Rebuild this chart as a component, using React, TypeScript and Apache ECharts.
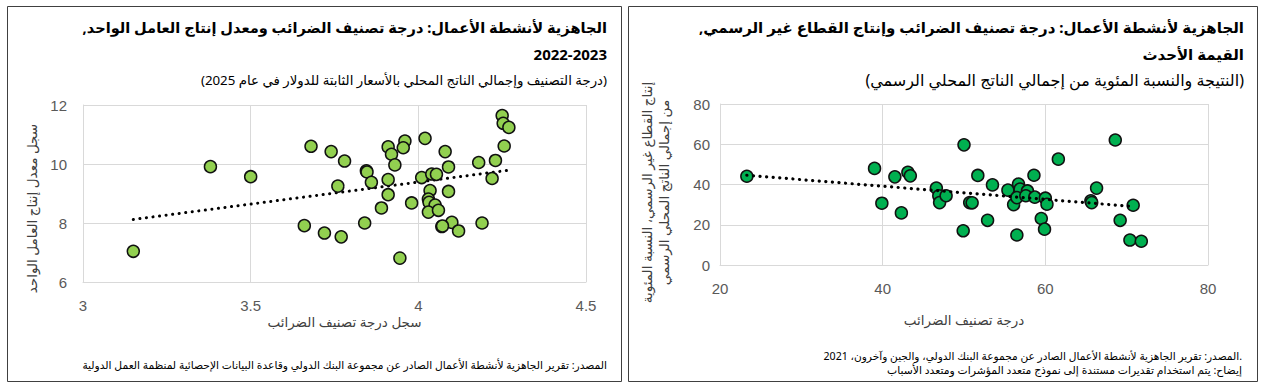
import React, { useEffect, useRef } from "react";
import * as echarts from "echarts";

// Left panel: log tax score vs log output per worker
const leftTaxLog = [3.15, 3.38, 3.5, 3.68, 3.66, 3.74, 3.72, 3.77, 3.76, 3.78, 3.845, 3.847, 3.84, 3.86, 3.89, 3.91, 3.92, 3.93, 3.91, 3.91, 3.945, 3.96, 3.955, 3.98, 4.02, 4.01, 4.04, 4.054, 4.035, 4.03, 4.032, 4.05, 4.03, 4.06, 4.08, 4.09, 4.09, 4.07, 4.1, 4.12, 4.072, 4.18, 4.19, 4.23, 4.22, 4.25, 4.253, 4.27, 4.256];
const leftProdLog = [7.04, 9.91, 9.57, 10.6, 7.91, 10.42, 7.66, 7.53, 9.25, 10.1, 9.77, 9.73, 8.0, 9.38, 8.51, 10.58, 10.33, 9.97, 9.47, 8.96, 6.81, 10.78, 10.55, 8.68, 10.87, 9.54, 9.66, 9.65, 9.1, 8.81, 8.7, 8.61, 8.37, 8.43, 10.42, 9.9, 9.07, 7.88, 8.02, 7.73, 7.9, 10.05, 8.0, 10.12, 9.51, 11.64, 11.38, 11.24, 10.61];
const leftTrendX = [3.15, 4.27];
const leftTrendY = [8.12, 9.79];

// Right panel: tax score vs informal output (% of formal GDP)
const rightTaxScore = [23.3, 39, 39.9, 41.5, 42.3, 43.1, 43.4, 46.6, 46.9, 47, 47.8, 50, 49.9, 50.7, 51, 51.7, 52.9, 53.5, 55.4, 56.1, 56.5, 56.7, 56.9, 56.5, 57.8, 57.6, 58.6, 58.7, 59.5, 59.9, 60, 60.2, 61.6, 65.6, 65.7, 66.3, 68.6, 69.2, 70.4, 70.8, 71.8];
const rightInformal = [44.1, 48, 30.7, 43.8, 25.9, 46.1, 44.3, 38.2, 34.4, 31, 34.4, 59.7, 17, 31, 30.9, 44.5, 22.2, 39.8, 37.2, 30, 14.9, 40.2, 37.7, 33.5, 36.8, 34.4, 44.6, 33.7, 23.1, 17.8, 33.2, 30.2, 52.6, 31.9, 31, 38.2, 62.1, 22.2, 12.4, 29.7, 11.8];
const rightTrendX = [23.3, 71.0];
const rightTrendY = [44.6, 29.0];

// Axis settings
const leftXTicks = { min: 3, max: 4.5, interval: 0.5 };
const leftYTicks = { min: 6, max: 12, interval: 2 };
const rightXTicks = { min: 20, max: 80, interval: 20 };
const rightYTicks = { min: 0, max: 80, interval: 20 };

// Texts
const leftTitle1 = "الجاهزية لأنشطة الأعمال: درجة تصنيف الضرائب ومعدل إنتاج العامل الواحد,";
const leftTitle2 = "2022-2023";
const leftSubtitle = "(درجة التصنيف وإجمالي الناتج المحلي بالأسعار الثابتة للدولار في عام 2025)";
const leftXName = "سجل درجة تصنيف الضرائب";
const leftYName = "سجل معدل إنتاج العامل الواحد";
const leftSource = "المصدر: تقرير الجاهزية لأنشطة الأعمال الصادر عن مجموعة البنك الدولي وقاعدة البيانات الإحصائية لمنظمة العمل الدولية";

const rightTitle1 = "الجاهزية لأنشطة الأعمال: درجة تصنيف الضرائب وإنتاج القطاع غير الرسمي,";
const rightTitle2 = "القيمة الأحدث";
const rightSubtitle = "(النتيجة والنسبة المئوية من إجمالي الناتج المحلي الرسمي)";
const rightXName = "درجة تصنيف الضرائب";
const rightYName = "إنتاج القطاع غير الرسمي، النسبة المئوية\nمن إجمالي الناتج المحلي الرسمي";
const rightSource = "المصدر: تقرير الجاهزية لأنشطة الأعمال الصادر عن مجموعة البنك الدولي، والجين وآخرون، 2021.";
const rightNote = "إيضاح: يتم استخدام تقديرات مستندة إلى نموذج متعدد المؤشرات ومتعدد الأسباب";

const rtl = (s: string) => "\u202B" + s + "\u202C";

const ARABIC_FONT = "'Noto Sans', 'DejaVu Sans', sans-serif";
const NUM_FONT = "'Liberation Sans', Arial, sans-serif";

function zip(xs: number[], ys: number[]) {
  return xs.map((x, i) => [x, ys[i]]);
}

export default function App() {
  const ref = useRef<HTMLDivElement>(null);

  useEffect(() => {
    document.body.style.margin = "0";
    if (!ref.current) return;
    const chart = echarts.init(ref.current, undefined, { renderer: "svg" });

    const axisCommon = {
      axisTick: { show: false },
      axisLine: { show: true, lineStyle: { color: "#d9d9d9", width: 1 } },
      splitLine: { show: true, lineStyle: { color: "#d9d9d9", width: 1 } },
      axisLabel: { color: "#595959", fontSize: 15, fontFamily: NUM_FONT },
      nameLocation: "middle" as const,
      nameTextStyle: { color: "#404040", fontSize: 13.5, fontFamily: ARABIC_FONT },
    };

    const text = (x: number, y: number, t: string, size: number, bold = false, align = "right") => ({
      type: "text",
      x,
      y,
      silent: true,
      style: {
        text: t,
        align,
        verticalAlign: "middle",
        fontSize: size,
        fontWeight: bold ? "bold" : "normal",
        fontFamily: ARABIC_FONT,
        fill: "#000000",
      },
    });

    chart.setOption({
      animation: false,
      backgroundColor: "#ffffff",
      grid: [
        { left: 83, top: 105, width: 503, height: 177, containLabel: false },
        { left: 720, top: 104, width: 488, height: 161, containLabel: false },
      ],
      xAxis: [
        {
          ...axisCommon,
          type: "value",
          gridIndex: 0,
          ...leftXTicks,
          name: leftXName,
          nameGap: 33,
          nameTextStyle: { ...axisCommon.nameTextStyle, padding: [0, 0, 0, 20] },
          axisLabel: { ...axisCommon.axisLabel, margin: 16 },
        },
        {
          ...axisCommon,
          type: "value",
          gridIndex: 1,
          ...rightXTicks,
          name: rightXName,
          nameGap: 48,
          axisLabel: { ...axisCommon.axisLabel, margin: 16 },
        },
      ],
      yAxis: [
        {
          ...axisCommon,
          type: "value",
          gridIndex: 0,
          ...leftYTicks,
          name: leftYName,
          nameGap: 44,
          nameTextStyle: { ...axisCommon.nameTextStyle, padding: [0, 30, 0, 0] },
          axisLabel: { ...axisCommon.axisLabel, margin: 16 },
        },
        {
          ...axisCommon,
          type: "value",
          gridIndex: 1,
          ...rightYTicks,
          name: rightYName,
          nameGap: 48,
          nameTextStyle: { ...axisCommon.nameTextStyle, lineHeight: 17, padding: [0, 16, 0, 0] },
          axisLabel: { ...axisCommon.axisLabel, margin: 10 },
        },
      ],
      series: [
        {
          type: "line",
          xAxisIndex: 0,
          yAxisIndex: 0,
          data: zip(leftTrendX, leftTrendY),
          symbol: "none",
          z: 1,
          lineStyle: { color: "#000000", width: 3, type: [0.1, 6.5], cap: "round" },
        },
        {
          type: "scatter",
          xAxisIndex: 0,
          yAxisIndex: 0,
          data: zip(leftTaxLog, leftProdLog),
          symbolSize: 12,
          z: 2,
          itemStyle: { color: "#92d050", borderColor: "#111111", borderWidth: 1.5, opacity: 1 },
        },
        {
          type: "scatter",
          xAxisIndex: 1,
          yAxisIndex: 1,
          data: zip(rightTaxScore, rightInformal),
          symbolSize: 12,
          z: 2,
          itemStyle: { color: "#00b050", borderColor: "#111111", borderWidth: 1.5, opacity: 1 },
        },
        {
          type: "line",
          xAxisIndex: 1,
          yAxisIndex: 1,
          data: zip(rightTrendX, rightTrendY),
          symbol: "none",
          z: 3,
          lineStyle: { color: "#000000", width: 3.2, type: [0.1, 6.5], cap: "round" },
        },
      ],
      graphic: [
        {
          type: "rect",
          silent: true,
          shape: { x: 7.5, y: 6.5, width: 614, height: 375 },
          style: { fill: "none", stroke: "#404040", lineWidth: 1 },
        },
        {
          type: "rect",
          silent: true,
          shape: { x: 628.5, y: 6.5, width: 629, height: 375 },
          style: { fill: "none", stroke: "#404040", lineWidth: 1 },
        },
        text(607, 27, rtl(leftTitle1), 14.6, true),
        text(607, 54, rtl(leftTitle2), 15, true),
        text(607, 80, rtl(leftSubtitle), 13.3),
        text(607, 365, leftSource, 10.7),
        text(1244, 27, rtl(rightTitle1), 15, true),
        text(1244, 54, rtl(rightTitle2), 15, true),
        text(1244, 80, rtl(rightSubtitle), 16),
        text(1242, 356, rightSource, 10.6),
        text(1242, 369, rtl(rightNote), 10.8),
      ],
    });

    return () => chart.dispose();
  }, []);

  return <div ref={ref} style={{ width: 1262, height: 392 }} />;
}
